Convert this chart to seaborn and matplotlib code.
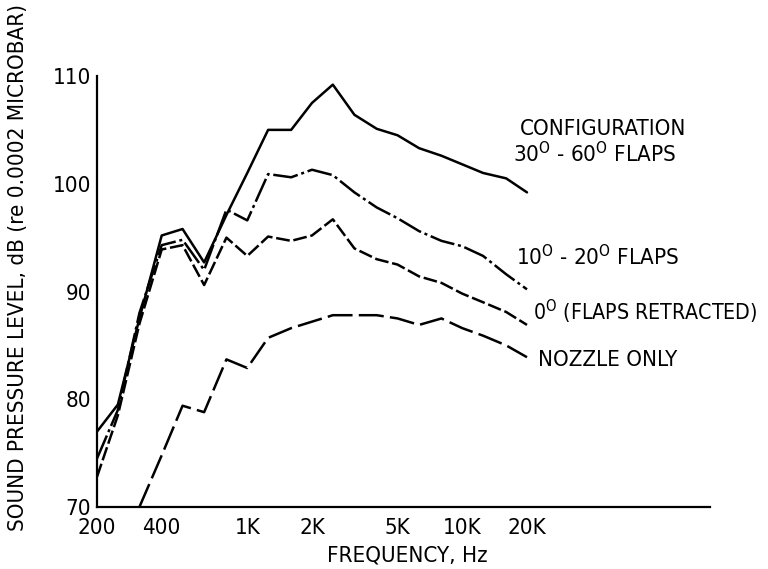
import numpy as np
import pandas as pd
import matplotlib
matplotlib.use("Agg")
import matplotlib.pyplot as plt
import seaborn as sns

# ---- data ----
freqs = [200, 250, 315, 400, 500, 630, 800, 1000, 1250, 1600, 2000, 2500,
         3150, 4000, 5000, 6300, 8000, 10000, 12500, 16000, 20000]
flaps_30_60 = [77.0, 79.5, 87.5, 95.2, 95.8, 92.7, 97.1, 101.0, 105.0, 105.0, 107.5, 109.2,
               106.4, 105.1, 104.5, 103.3, 102.6, 101.8, 101.0, 100.5, 99.2]
flaps_10_20 = [74.5, 79.0, 88.0, 94.3, 94.8, 92.0, 97.6, 96.6, 100.9, 100.6, 101.3, 100.8,
               99.2, 97.8, 96.8, 95.6, 94.7, 94.2, 93.3, 91.6, 90.2]
flaps_0 = [72.8, 78.5, 87.0, 93.9, 94.3, 90.6, 95.0, 93.3, 95.1, 94.7, 95.2, 96.7,
           94.0, 93.0, 92.5, 91.4, 90.8, 89.8, 89.0, 88.1, 86.9]
nozzle_only = [np.nan, np.nan, 70.0, 74.8, 79.4, 78.8, 83.7, 82.9, 85.7, 86.6, 87.2, 87.8,
               87.8, 87.8, 87.5, 86.9, 87.5, 86.6, 85.9, 85.0, 83.9]

series_names = ["30-60", "10-20", "0", "nozzle"]
series_values = [flaps_30_60, flaps_10_20, flaps_0, nozzle_only]

xtick_vals = [200, 400, 1000, 2000, 5000, 10000, 20000]
xtick_labels = ["200", "400", "1K", "2K", "5K", "10K", "20K"]
ytick_vals = [70, 80, 90, 100, 110]

label_texts = [r"30$^{\mathrm{O}}$ - 60$^{\mathrm{O}}$ FLAPS",
               r"10$^{\mathrm{O}}$ - 20$^{\mathrm{O}}$ FLAPS",
               r"0$^{\mathrm{O}}$ (FLAPS RETRACTED)",
               "NOZZLE ONLY"]
label_x = [17200, 17800, 21300, 22500]
label_y = [102.8, 93.2, 88.1, 83.6]
label_fs = [16, 16, 15.3, 16]

df = pd.DataFrame({
    "freq": np.tile(freqs, len(series_names)),
    "spl": np.concatenate(series_values),
    "config": np.repeat(series_names, len(freqs)),
}).dropna()

# ---- style ----
sns.set_theme(style="white")
plt.rcParams["font.family"] = ["DejaVu Sans"]
plt.rcParams["font.stretch"] = "condensed"
plt.rcParams["mathtext.fontset"] = "custom"
plt.rcParams["mathtext.rm"] = "DejaVu Sans:stretch=condensed"
plt.rcParams["mathtext.it"] = "DejaVu Sans:stretch=condensed"
plt.rcParams["mathtext.bf"] = "DejaVu Sans:stretch=condensed"

FS = 16

fig = plt.figure(figsize=(7.68, 5.69), dpi=100)
ax = fig.add_axes([97 / 768, 62 / 569, 613 / 768, 431 / 569])

dash_map = {"30-60": "", "10-20": (10, 1.5, 1.2, 1.5), "0": (5.5, 1.5), "nozzle": (10, 2.5)}
sns.lineplot(data=df, x="freq", y="spl", style="config", style_order=series_names,
             dashes=dash_map, color="black", linewidth=1.8, legend=False, ax=ax,
             estimator=None, sort=True)

ax.set_xscale("log")
ax.set_xlim(200, 1.42e5)
ax.set_ylim(70, 110)
ax.set_xticks(xtick_vals)
ax.set_xticklabels(xtick_labels)
ax.xaxis.set_minor_locator(matplotlib.ticker.NullLocator())
ax.set_yticks(ytick_vals)
ax.set_yticklabels([str(v) for v in ytick_vals])

for s in ["top", "right"]:
    ax.spines[s].set_visible(False)
for s in ["left", "bottom"]:
    ax.spines[s].set_color("black")
    ax.spines[s].set_linewidth(1.6)

ax.tick_params(axis="both", direction="in", length=14, width=1.4, colors="black",
               labelsize=FS, pad=4)
ax.tick_params(axis="x", pad=8)

ax.set_xlabel("FREQUENCY, Hz", fontsize=FS, color="black")
ax.set_ylabel("SOUND PRESSURE LEVEL, dB (re 0.0002 MICROBAR)", fontsize=FS, color="black")
ax.xaxis.set_label_coords(0.506, -0.112)
ax.xaxis.label.set_va("center")
ax.yaxis.set_label_coords(-0.129, 0.555)
ax.yaxis.label.set_va("center")

ax.text(18560, 105.1, "CONFIGURATION", fontsize=FS, va="center", ha="left", color="black")
for t, x, y, f in zip(label_texts, label_x, label_y, label_fs):
    ax.text(x, y, t, fontsize=f, va="center", ha="left", color="black")

fig.savefig("out.png", dpi=100, facecolor="white")
